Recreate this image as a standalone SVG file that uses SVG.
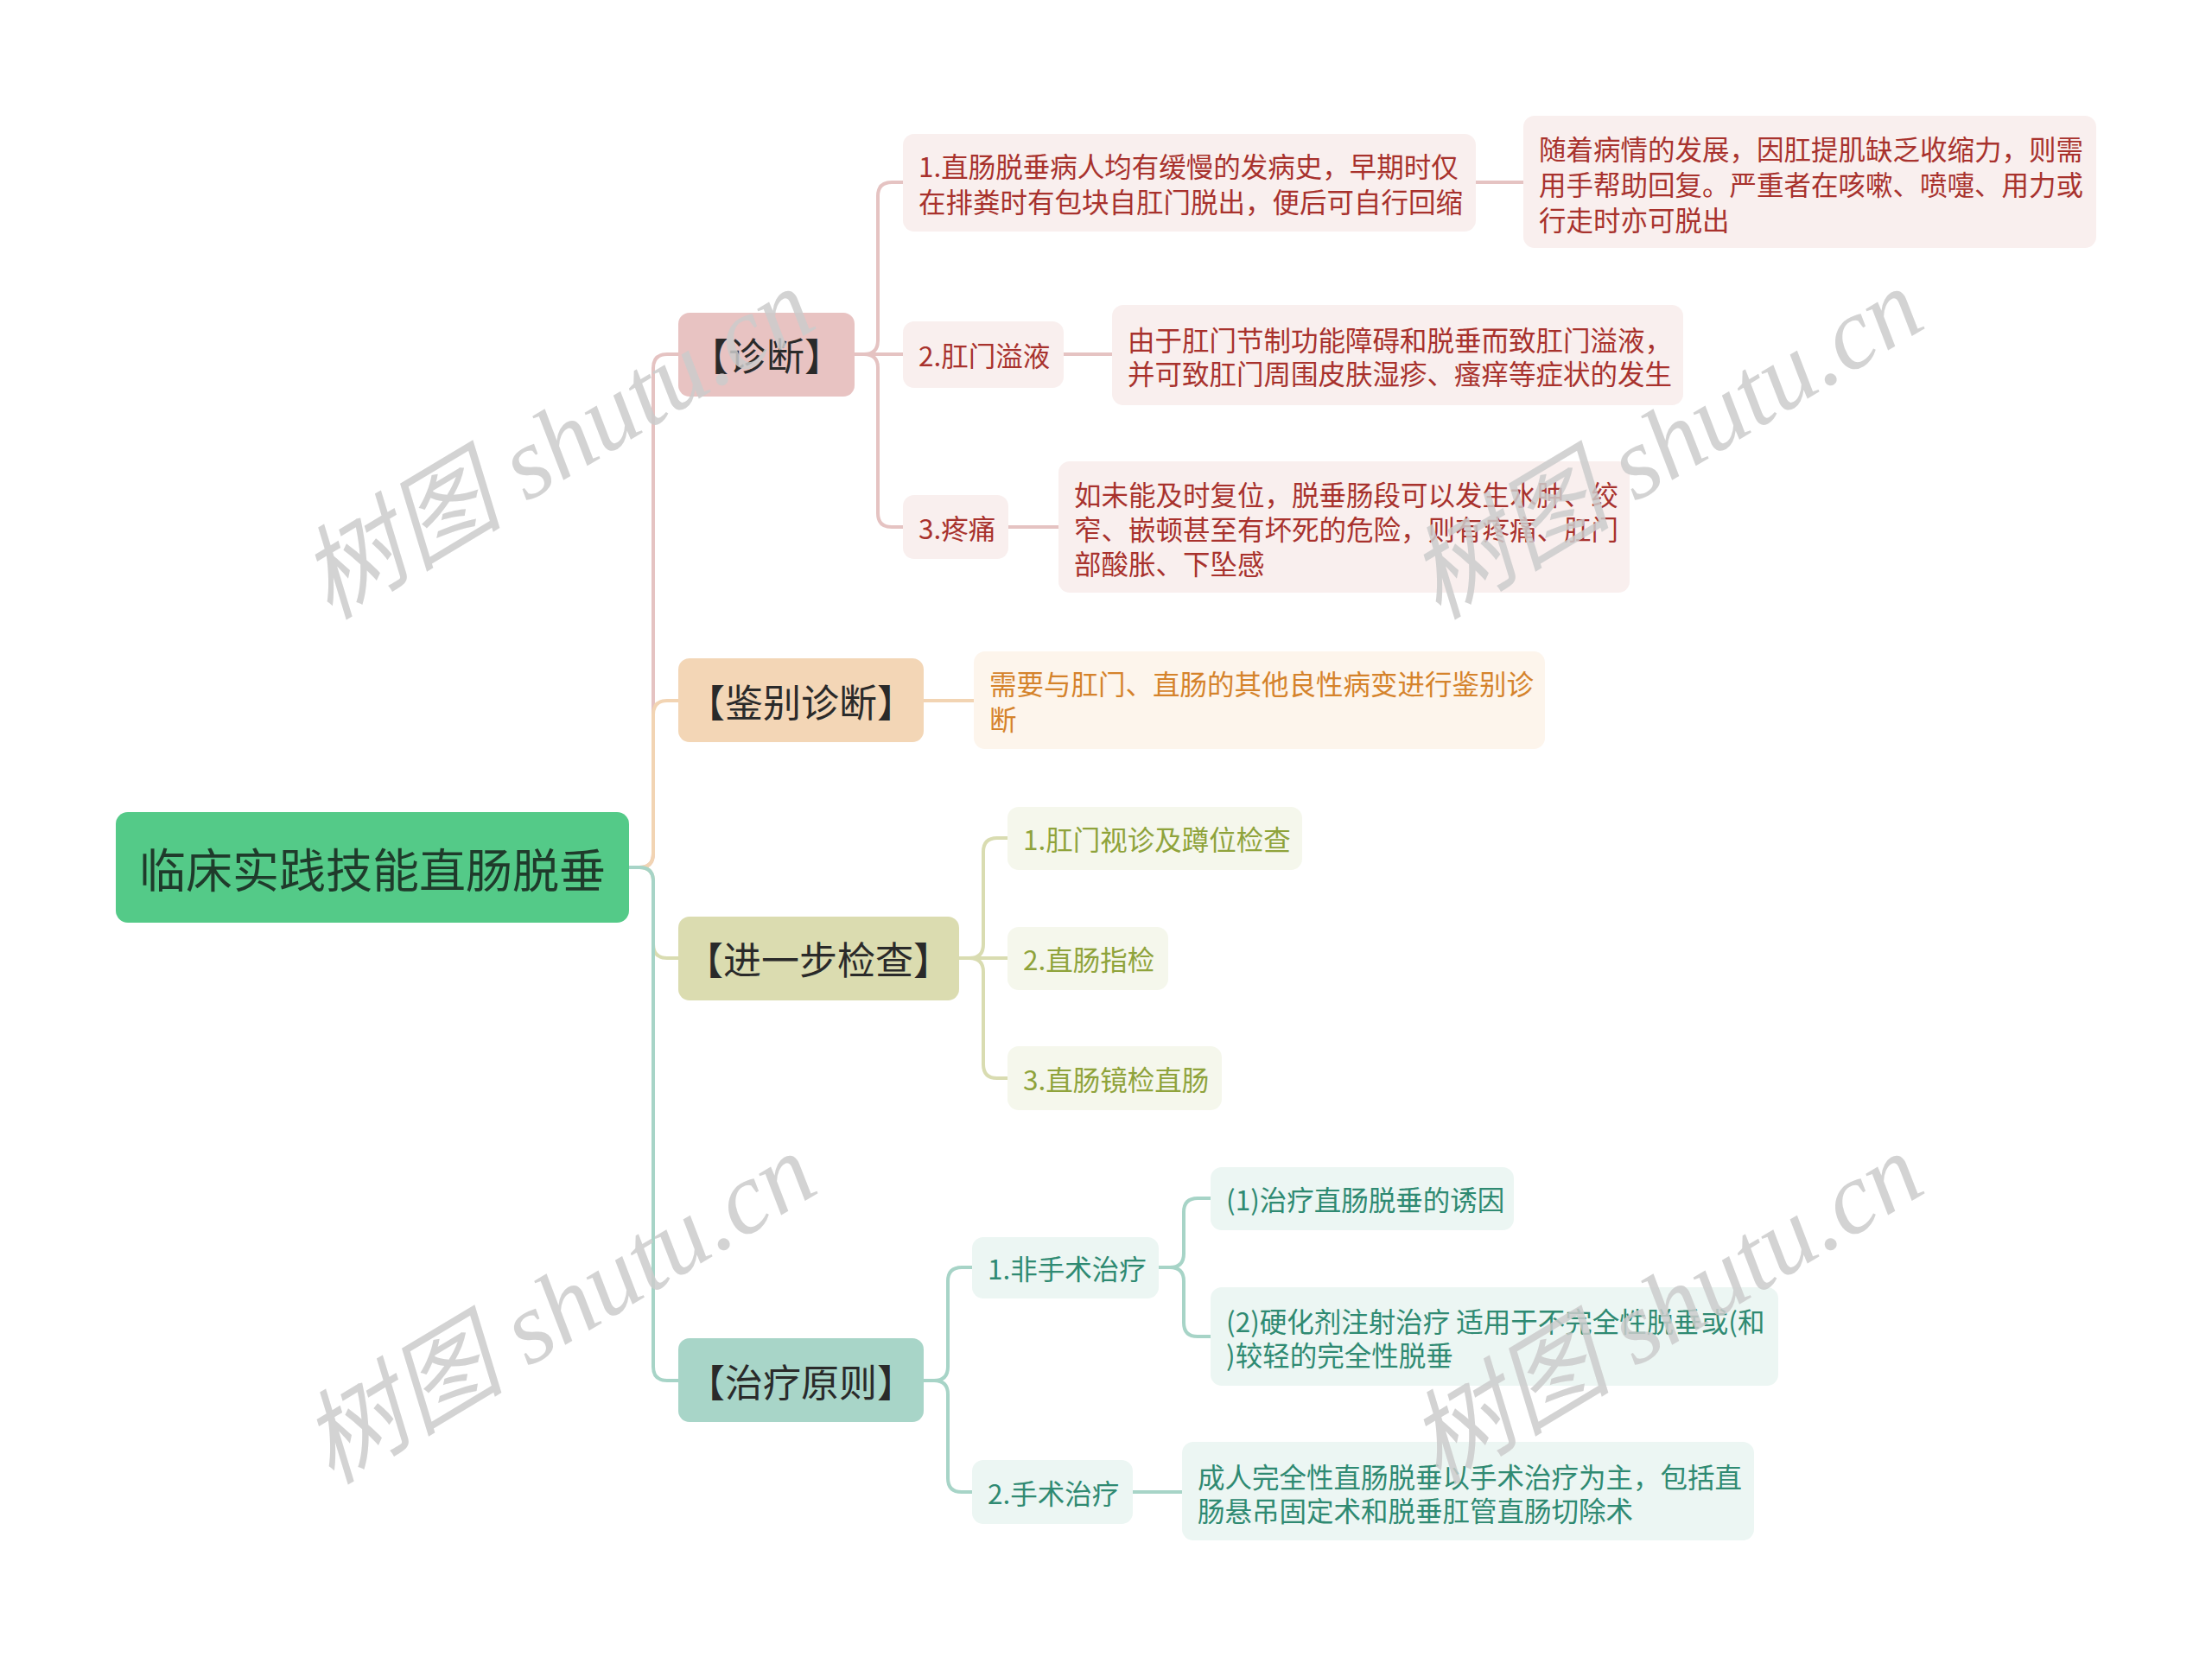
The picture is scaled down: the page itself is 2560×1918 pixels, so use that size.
<svg xmlns="http://www.w3.org/2000/svg" width="2560" height="1918" viewBox="0 0 2560 1918">
<style>
text{font-family:"Noto Sans CJK SC","Noto Sans",sans-serif;dominant-baseline:central}
.c{fill:none;stroke-width:4;stroke-linecap:round}
.pk{stroke:#e5c3c2}.or{stroke:#f2d4b3}.ol{stroke:#d9dcb1}.tl{stroke:#a7d4c7}
.l1{font-size:44px;fill:#2a2a2a;text-anchor:middle}
.l2{font-size:31.5px}
.rd{fill:#a8322d}.og{fill:#d5832b}.gv{fill:#8fa33b}.tg{fill:#2f8a72}
.bpk{fill:#f9efee}.bor{fill:#fdf5ec}.bol{fill:#f5f7ec}.btl{fill:#ecf6f3}
.wm{font-family:"Liberation Serif","Noto Sans CJK SC",serif;font-style:italic;font-size:118px;fill:#cbcbcb;fill-opacity:0.85;text-anchor:middle}
</style>
<rect width="2560" height="1918" fill="#ffffff"/>
<g id="connectors">
<path class="c pk" d="M728,1004 H740 Q756,1004 756,988 V426 Q756,410 772,410 H785"/>
<path class="c or" d="M728,1004 H740 Q756,1004 756,988 V827 Q756,811 772,811 H785"/>
<path class="c ol" d="M728,1004 H740 Q756,1004 756,1020 V1093 Q756,1109 772,1109 H785"/>
<path class="c tl" d="M728,1004 H740 Q756,1004 756,1020 V1582 Q756,1598 772,1598 H785"/>
<path class="c pk" d="M989,410 H1000 Q1016,410 1016,394 V227 Q1016,211 1032,211 H1045"/>
<path class="c pk" d="M989,410 H1045"/>
<path class="c pk" d="M989,410 H1000 Q1016,410 1016,426 V594 Q1016,610 1032,610 H1045"/>
<path class="c pk" d="M1708,211 H1763"/>
<path class="c pk" d="M1231,410 H1287"/>
<path class="c pk" d="M1167,610 H1225"/>
<path class="c or" d="M1069,811 H1127"/>
<path class="c ol" d="M1110,1109 H1122 Q1138,1109 1138,1093 V986 Q1138,970 1154,970 H1166"/>
<path class="c ol" d="M1110,1109 H1166"/>
<path class="c ol" d="M1110,1109 H1122 Q1138,1109 1138,1125 V1232 Q1138,1248 1154,1248 H1166"/>
<path class="c tl" d="M1069,1598 H1081 Q1097,1598 1097,1582 V1483 Q1097,1467 1113,1467 H1125"/>
<path class="c tl" d="M1069,1598 H1081 Q1097,1598 1097,1614 V1711 Q1097,1727 1113,1727 H1126"/>
<path class="c tl" d="M1341,1467 H1354 Q1370,1467 1370,1451 V1403 Q1370,1387 1386,1387 H1401"/>
<path class="c tl" d="M1341,1467 H1354 Q1370,1467 1370,1483 V1531 Q1370,1547 1386,1547 H1401"/>
<path class="c tl" d="M1310,1727 H1368"/>
</g>
<g id="root">
<rect x="134" y="940" width="594" height="128" rx="14" fill="#54ca88"/>
<text x="431" y="1004" font-size="54" fill="#1f3b2b" text-anchor="middle">临床实践技能直肠脱垂</text>
</g>
<g id="zhenduan">
<rect x="785" y="362" width="204" height="97" rx="13" fill="#e8c3c2"/>
<text class="l1" x="887" y="410">【诊断】</text>
</g>
<g id="jianbie">
<rect x="785" y="762" width="284" height="97" rx="13" fill="#f3d6b6"/>
<text class="l1" x="927" y="811">【鉴别诊断】</text>
</g>
<g id="jinyibu">
<rect x="785" y="1061" width="325" height="97" rx="13" fill="#dbdcb0"/>
<text class="l1" x="947" y="1109">【进一步检查】</text>
</g>
<g id="zhiliao">
<rect x="785" y="1549" width="284" height="97" rx="13" fill="#a8d5c8"/>
<text class="l1" x="927" y="1598">【治疗原则】</text>
</g>
<g id="d1">
<rect class="bpk" x="1045" y="155" width="663" height="113" rx="13"/>
<text class="l2 rd" x="1063" y="191">1.直肠脱垂病人均有缓慢的发病史，早期时仅</text>
<text class="l2 rd" x="1063" y="232">在排粪时有包块自肛门脱出，便后可自行回缩</text>
</g>
<g id="d1c">
<rect class="bpk" x="1763" y="134" width="663" height="153" rx="13"/>
<text class="l2 rd" x="1781" y="171">随着病情的发展，因肛提肌缺乏收缩力，则需</text>
<text class="l2 rd" x="1781" y="212">用手帮助回复。严重者在咳嗽、喷嚏、用力或</text>
<text class="l2 rd" x="1781" y="253">行走时亦可脱出</text>
</g>
<g id="d2">
<rect class="bpk" x="1045" y="372" width="186" height="77" rx="13"/>
<text class="l2 rd" x="1063" y="410">2.肛门溢液</text>
</g>
<g id="d2c">
<rect class="bpk" x="1287" y="353" width="661" height="116" rx="13"/>
<text class="l2 rd" x="1305" y="392">由于肛门节制功能障碍和脱垂而致肛门溢液，</text>
<text class="l2 rd" x="1305" y="431">并可致肛门周围皮肤湿疹、瘙痒等症状的发生</text>
</g>
<g id="d3">
<rect class="bpk" x="1045" y="573" width="122" height="74" rx="13"/>
<text class="l2 rd" x="1063" y="610">3.疼痛</text>
</g>
<g id="d3c">
<rect class="bpk" x="1225" y="534" width="661" height="152" rx="13"/>
<text class="l2 rd" x="1243" y="571">如未能及时复位，脱垂肠段可以发生水肿、绞</text>
<text class="l2 rd" x="1243" y="611">窄、嵌顿甚至有坏死的危险，则有疼痛、肛门</text>
<text class="l2 rd" x="1243" y="651">部酸胀、下坠感</text>
</g>
<g id="j1">
<rect class="bor" x="1127" y="754" width="661" height="113" rx="13"/>
<text class="l2 og" x="1145" y="790">需要与肛门、直肠的其他良性病变进行鉴别诊</text>
<text class="l2 og" x="1145" y="831">断</text>
</g>
<g id="e1">
<rect class="bol" x="1166" y="934" width="341" height="73" rx="13"/>
<text class="l2 gv" x="1184" y="970">1.肛门视诊及蹲位检查</text>
</g>
<g id="e2">
<rect class="bol" x="1166" y="1073" width="186" height="73" rx="13"/>
<text class="l2 gv" x="1184" y="1109">2.直肠指检</text>
</g>
<g id="e3">
<rect class="bol" x="1166" y="1211" width="248" height="74" rx="13"/>
<text class="l2 gv" x="1184" y="1248">3.直肠镜检直肠</text>
</g>
<g id="t1">
<rect class="btl" x="1125" y="1432" width="216" height="71" rx="13"/>
<text class="l2 tg" x="1143" y="1467">1.非手术治疗</text>
</g>
<g id="t1a">
<rect class="btl" x="1401" y="1351" width="351" height="73" rx="13"/>
<text class="l2 tg" x="1419" y="1387">(1)治疗直肠脱垂的诱因</text>
</g>
<g id="t1b">
<rect class="btl" x="1401" y="1490" width="657" height="114" rx="13"/>
<text class="l2 tg" x="1419" y="1528">(2)硬化剂注射治疗 适用于不完全性脱垂或(和</text>
<text class="l2 tg" x="1419" y="1567">)较轻的完全性脱垂</text>
</g>
<g id="t2">
<rect class="btl" x="1125" y="1690" width="186" height="74" rx="13"/>
<text class="l2 tg" x="1143" y="1727">2.手术治疗</text>
</g>
<g id="t2a">
<rect class="btl" x="1368" y="1669" width="662" height="114" rx="13"/>
<text class="l2 tg" x="1386" y="1708">成人完全性直肠脱垂以手术治疗为主，包括直</text>
<text class="l2 tg" x="1386" y="1747">肠悬吊固定术和脱垂肛管直肠切除术</text>
</g>
<g id="watermarks">
<text class="wm" transform="translate(645,514) rotate(-31)">树图 shutu.cn</text>
<text class="wm" transform="translate(1928,514) rotate(-31)">树图 shutu.cn</text>
<text class="wm" transform="translate(647,1515) rotate(-31)">树图 shutu.cn</text>
<text class="wm" transform="translate(1928,1515) rotate(-31)">树图 shutu.cn</text>
</g>
</svg>
